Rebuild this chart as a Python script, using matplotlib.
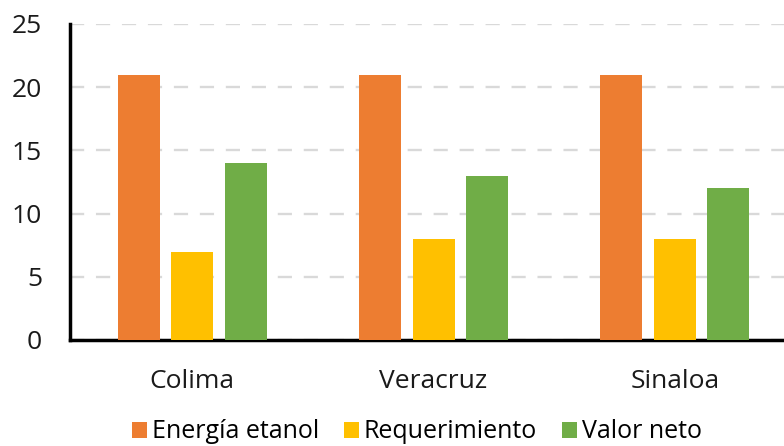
import matplotlib.pyplot as plt
import numpy as np

# datos
estados = ["Colima", "Veracruz", "Sinaloa"]
energia_etanol = [21, 21, 21]
requerimiento = [7, 8, 8]
valor_neto = [14, 13, 12]

series = ["Energía etanol", "Requerimiento", "Valor neto"]
colores = ["#ed7d31", "#ffc000", "#70ad47"]

plt.rcParams['font.family'] = ['Open Sans', 'DejaVu Sans']

fig = plt.figure(figsize=(7.84, 4.46), dpi=100)
ax = fig.add_axes([0.0893, 0.2377, 0.9107, 0.7085])

x = np.arange(len(estados))
ancho = 0.174
paso = 0.222
for k, (vals, nom, col) in enumerate(zip([energia_etanol, requerimiento, valor_neto], series, colores)):
    ax.bar(x + (k - 1) * paso, vals, ancho, color=col, label=nom, zorder=3)

ax.set_xlim(-0.506, 2.452)
ax.set_ylim(0, 25)
ax.set_yticks(range(0, 26, 5))
ax.set_xticks(x)
ax.set_xticklabels(estados)
ax.tick_params(axis='both', length=0, labelsize=19, colors='#1a1a1a')
ax.tick_params(axis='x', pad=21)
ax.tick_params(axis='y', pad=20)

ax.yaxis.grid(True, color='#d9d9d9', linestyle=(0, (6, 5)), linewidth=1.7, zorder=0)
ax.spines['top'].set_visible(False)
ax.spines['right'].set_visible(False)
ax.spines['left'].set_linewidth(2.5)
ax.spines['bottom'].set_linewidth(2.5)

fig.legend(loc='center', bbox_to_anchor=(417 / 784, 14 / 446), ncol=3, frameon=False,
           fontsize=18, handlelength=0.6, handleheight=0.6, handletextpad=0.2,
           columnspacing=1.0)

fig.savefig("out.png", dpi=100)
